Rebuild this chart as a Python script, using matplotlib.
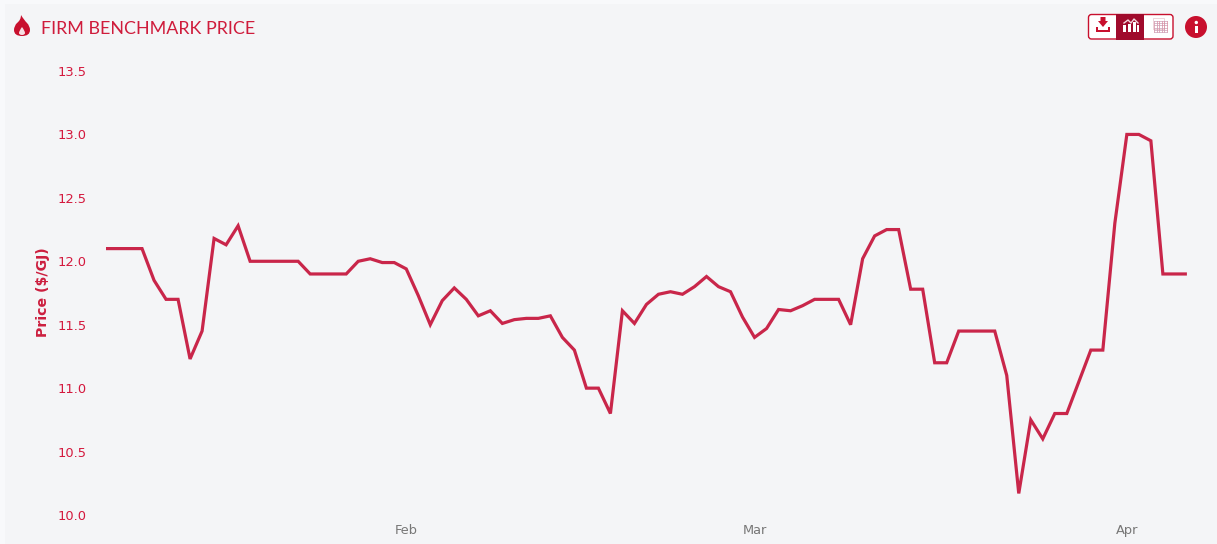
import numpy as np
import pandas as pd
import matplotlib
matplotlib.use("Agg")
import matplotlib.pyplot as plt
import matplotlib.dates as mdates
from matplotlib.patches import Rectangle, FancyBboxPatch, Circle, PathPatch, Polygon
from matplotlib.path import Path

start_date = "2024-01-07"
prices = [12.1, 12.1, 12.1, 12.1, 11.85, 11.7, 11.7, 11.23, 11.45, 12.18, 12.13, 12.28,
          12.0, 12.0, 12.0, 12.0, 12.0, 11.9, 11.9, 11.9, 11.9, 12.0, 12.02, 11.99, 11.99,
          11.94, 11.73, 11.5, 11.69, 11.79, 11.7, 11.57, 11.61, 11.51, 11.54, 11.55, 11.55,
          11.57, 11.4, 11.3, 11.0, 11.0, 10.8, 11.61, 11.51, 11.66, 11.74, 11.76, 11.74,
          11.8, 11.88, 11.8, 11.76, 11.56, 11.4, 11.47, 11.62, 11.61, 11.65, 11.7, 11.7,
          11.7, 11.5, 12.02, 12.2, 12.25, 12.25, 11.78, 11.78, 11.2, 11.2, 11.45, 11.45,
          11.45, 11.45, 11.1, 10.17, 10.75, 10.6, 10.8, 10.8, 11.05, 11.3, 11.3, 12.3,
          13.0, 13.0, 12.95, 11.9, 11.9, 11.9]
y_ticks = [10.0, 10.5, 11.0, 11.5, 12.0, 12.5, 13.0, 13.5]
x_ticks = ["2024-02-01", "2024-03-01", "2024-04-01"]
x_labels = ["Feb", "Mar", "Apr"]
title = "FIRM BENCHMARK PRICE"
y_title = "Price ($/GJ)"

W, H = 1217, 544
BG = "#f4f5f7"
RED = "#c8102e"
DARK = "#a00a2c"
LINE = "#c9264a"

dates = pd.date_range(start_date, periods=len(prices), freq="D")

fig = plt.figure(figsize=(W / 100, H / 100), dpi=100, facecolor="#f8f9fb")

# pixel-space overlay for the page panel, icons and heading
ov = fig.add_axes([0, 0, 1, 1], zorder=0)
ov.set_xlim(0, W)
ov.set_ylim(H, 0)
ov.axis("off")
ov.add_patch(Rectangle((5, 4), W - 5, H - 4, fc=BG, ec="none"))

# chart axes: 10.0 sits at y=515 px and 13.5 at y=71 px
x0, x1 = 97, 1196
ax = fig.add_axes([x0 / W, 1 - 515 / H, (x1 - x0) / W, (515 - 71) / H], zorder=1)
ax.patch.set_alpha(0)
ax.plot(dates, prices, color=LINE, lw=2.3, solid_joinstyle="miter", solid_capstyle="butt", clip_on=False)
px_per_day = 12.01
d0 = mdates.date2num(dates[0])
ax.set_xlim(d0 - (106 - x0) / px_per_day, d0 + (x1 - 106) / px_per_day)
ax.set_ylim(10.0, 13.5)
for s in ax.spines.values():
    s.set_visible(False)
ax.set_yticks(y_ticks)
ax.set_yticklabels([f"{v:.1f}" for v in y_ticks])
ax.set_xticks(mdates.date2num(pd.to_datetime(x_ticks)))
ax.set_xticklabels(x_labels)
ax.tick_params(axis="y", length=0, pad=7.5, labelsize=9.4, labelcolor="#d4183d")
ax.tick_params(axis="x", length=0, pad=6.5, labelsize=9.4, labelcolor="#777777")

ov.text(43, 292, y_title, rotation=90, ha="center", va="center", fontsize=10.2,
        color="#cc1f3f", family="DejaVu Sans", fontweight="bold")
ov.text(41, 29, title, ha="left", va="center", fontsize=12.85, color="#cf1c3c", family="Lato")

# flame icon
flame = Path(
    [(21, 15), (24, 20), (27, 23), (30, 26), (30, 30), (30, 36), (22, 36),
     (14, 36), (14, 30), (14, 26), (17, 23), (21, 20), (21, 15)],
    [Path.MOVETO] + [Path.CURVE3] * 12,
)
ov.add_patch(PathPatch(flame, fc=RED, ec="none"))
candle = Path([(22, 27), (25, 31), (25, 33), (25, 35), (22, 35), (19, 35), (19, 33), (19, 31), (22, 27)],
              [Path.MOVETO] + [Path.CURVE3] * 8)
ov.add_patch(PathPatch(candle, fc="#f6dfe3", ec="none"))

# button group
ov.add_patch(FancyBboxPatch((1088.5, 14.5), 84.5, 24.5, boxstyle="round,pad=0,rounding_size=3",
                            fc="white", ec=RED, lw=1))
ov.add_patch(Rectangle((1116, 14), 28, 25.5, fc=DARK, ec="none"))
# download
ov.add_patch(Polygon([(1100.5, 17), (1105.5, 17), (1105.5, 21), (1108, 21), (1103, 27), (1098, 21), (1100.5, 21)],
                     fc=RED, ec="none"))
ov.add_patch(Polygon([(1096, 27), (1098, 27), (1098, 30), (1108, 30), (1108, 27), (1110, 27), (1110, 32), (1096, 32)],
                     fc=RED, ec="none"))
# chart
for bx, by in [(1124, 25), (1129, 24), (1134, 22), (1137.5, 25)]:
    ov.add_patch(Rectangle((bx - 1, by), 2.6, 32 - by, fc="white", ec="none"))
ov.plot([1124, 1128, 1131, 1134, 1138], [23, 20, 23, 19, 23], color="#f3d5dc", lw=1)
# table
for i in range(6):
    ov.plot([1154 + i * 2.5, 1154 + i * 2.5], [21, 32], color="#d98a9c", lw=0.5)
    ov.plot([1154, 1166.5], [21 + i * 2.2, 21 + i * 2.2], color="#c9a0b8", lw=0.5)
ov.add_patch(Rectangle((1152.5, 18), 11, 11, fc="none", ec="#e8c4cc", lw=0.5))
# info
ov.add_patch(Circle((1196, 27), 11, fc=RED, ec="none"))
ov.add_patch(Circle((1196.3, 22.5), 1.7, fc="white", ec="none"))
ov.add_patch(Rectangle((1194.7, 25.5), 3.2, 7.5, fc="white", ec="none"))

fig.savefig("out.png", dpi=100, facecolor=fig.get_facecolor())
